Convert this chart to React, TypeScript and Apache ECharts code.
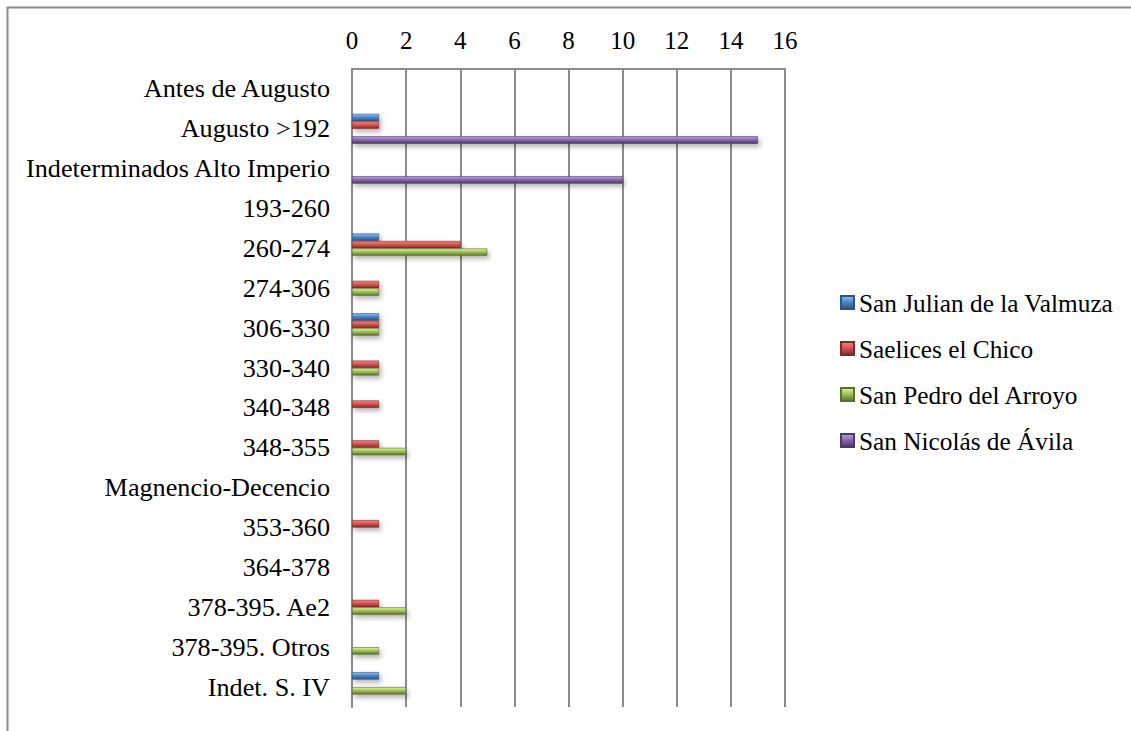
import React, { useEffect, useRef } from "react";
import * as echarts from "echarts";

const categories = [
  "Antes de Augusto",
  "Augusto >192",
  "Indeterminados Alto Imperio",
  "193-260",
  "260-274",
  "274-306",
  "306-330",
  "330-340",
  "340-348",
  "348-355",
  "Magnencio-Decencio",
  "353-360",
  "364-378",
  "378-395. Ae2",
  "378-395. Otros",
  "Indet. S. IV",
];

const seriesNames = [
  "San Julian de la Valmuza",
  "Saelices el Chico",
  "San Pedro del Arroyo",
  "San Nicolás de Ávila",
];

const sanJulian = [0, 1, 0, 0, 1, 0, 1, 0, 0, 0, 0, 0, 0, 0, 0, 1];
const saelices = [0, 1, 0, 0, 4, 1, 1, 1, 1, 1, 0, 1, 0, 1, 0, 0];
const sanPedro = [0, 0, 0, 0, 5, 1, 1, 1, 0, 2, 0, 0, 0, 2, 1, 2];
const sanNicolas = [0, 15, 10, 0, 0, 0, 0, 0, 0, 0, 0, 0, 0, 0, 0, 0];

const xTicks = [0, 2, 4, 6, 8, 10, 12, 14, 16];

const palettes = [
  { light: "#93c3f5", mid: "#4f86c8", dark: "#2c5384" },
  { light: "#f5807d", mid: "#dc5653", dark: "#7e2a28" },
  { light: "#dcf594", mid: "#a2c45c", dark: "#5a7030" },
  { light: "#bea2e6", mid: "#8a6cae", dark: "#4a3866" },
];

const FONT = "'Liberation Serif', 'DejaVu Serif', serif";

export default function App() {
  const ref = useRef<HTMLDivElement>(null);
  useEffect(() => {
    if (!ref.current) return;
    const chart = echarts.init(ref.current, undefined, { renderer: "svg" });
    const allData = [sanJulian, saelices, sanPedro, sanNicolas];
    const grad = (p: { light: string; mid: string; dark: string }) =>
      new echarts.graphic.LinearGradient(0, 0, 0, 1, [
        { offset: 0, color: p.light },
        { offset: 0.45, color: p.mid },
        { offset: 1, color: p.dark },
      ]);
    chart.setOption({
      animation: false,
      backgroundColor: "#ffffff",
      grid: { left: 352, right: 346, top: 69, bottom: 24, containLabel: false },
      legend: {
        orient: "vertical",
        left: 835,
        top: 285,
        itemWidth: 13,
        itemHeight: 13,
        itemGap: 21,
        icon: "rect",
        textStyle: { fontFamily: FONT, fontSize: 25.3, color: "#000" },
        data: seriesNames,
      },
      xAxis: {
        type: "value",
        position: "top",
        min: 0,
        max: 16,
        interval: 2,
        axisLine: { show: true, lineStyle: { color: "#8c8c8c", width: 2 } },
        axisTick: { show: false },
        axisLabel: {
          fontFamily: FONT,
          fontSize: 25,
          color: "#000",
          margin: 16,
          formatter: (v: number) => (xTicks.includes(v) ? String(v) : ""),
        },
        splitLine: { show: true, lineStyle: { color: "#8c8c8c", width: 2 } },
      },
      yAxis: {
        type: "category",
        inverse: true,
        data: categories,
        axisLine: { show: true, lineStyle: { color: "#8c8c8c", width: 2 } },
        axisTick: { show: false },
        axisLabel: {
          fontFamily: FONT,
          fontSize: 26.2,
          color: "#000",
          margin: 22,
        },
      },
      graphic: [
        {
          type: "rect",
          shape: { x: 7.5, y: 7.5, width: 1200, height: 800 },
          style: { fill: "none", stroke: "#8c8c8c", lineWidth: 2 },
          silent: true,
          z: 100,
        },
      ],
      series: allData.map((d, i) => ({
        name: seriesNames[i],
        type: "bar",
        data: d.map((v) => (v === 0 ? null : v)),
        barGap: "0%",
        barCategoryGap: "25%",
        itemStyle: {
          color: grad(palettes[i]),
          borderColor: palettes[i].dark,
          borderWidth: 0.6,
          shadowColor: "rgba(0,0,0,0.3)",
          shadowBlur: 5,
          shadowOffsetX: 2,
          shadowOffsetY: 3,
        },
      })),
    });
    return () => chart.dispose();
  }, []);
  return (
    <div
      ref={ref}
      style={{ position: "fixed", left: 0, top: 0, width: 1131, height: 731 }}
    />
  );
}
